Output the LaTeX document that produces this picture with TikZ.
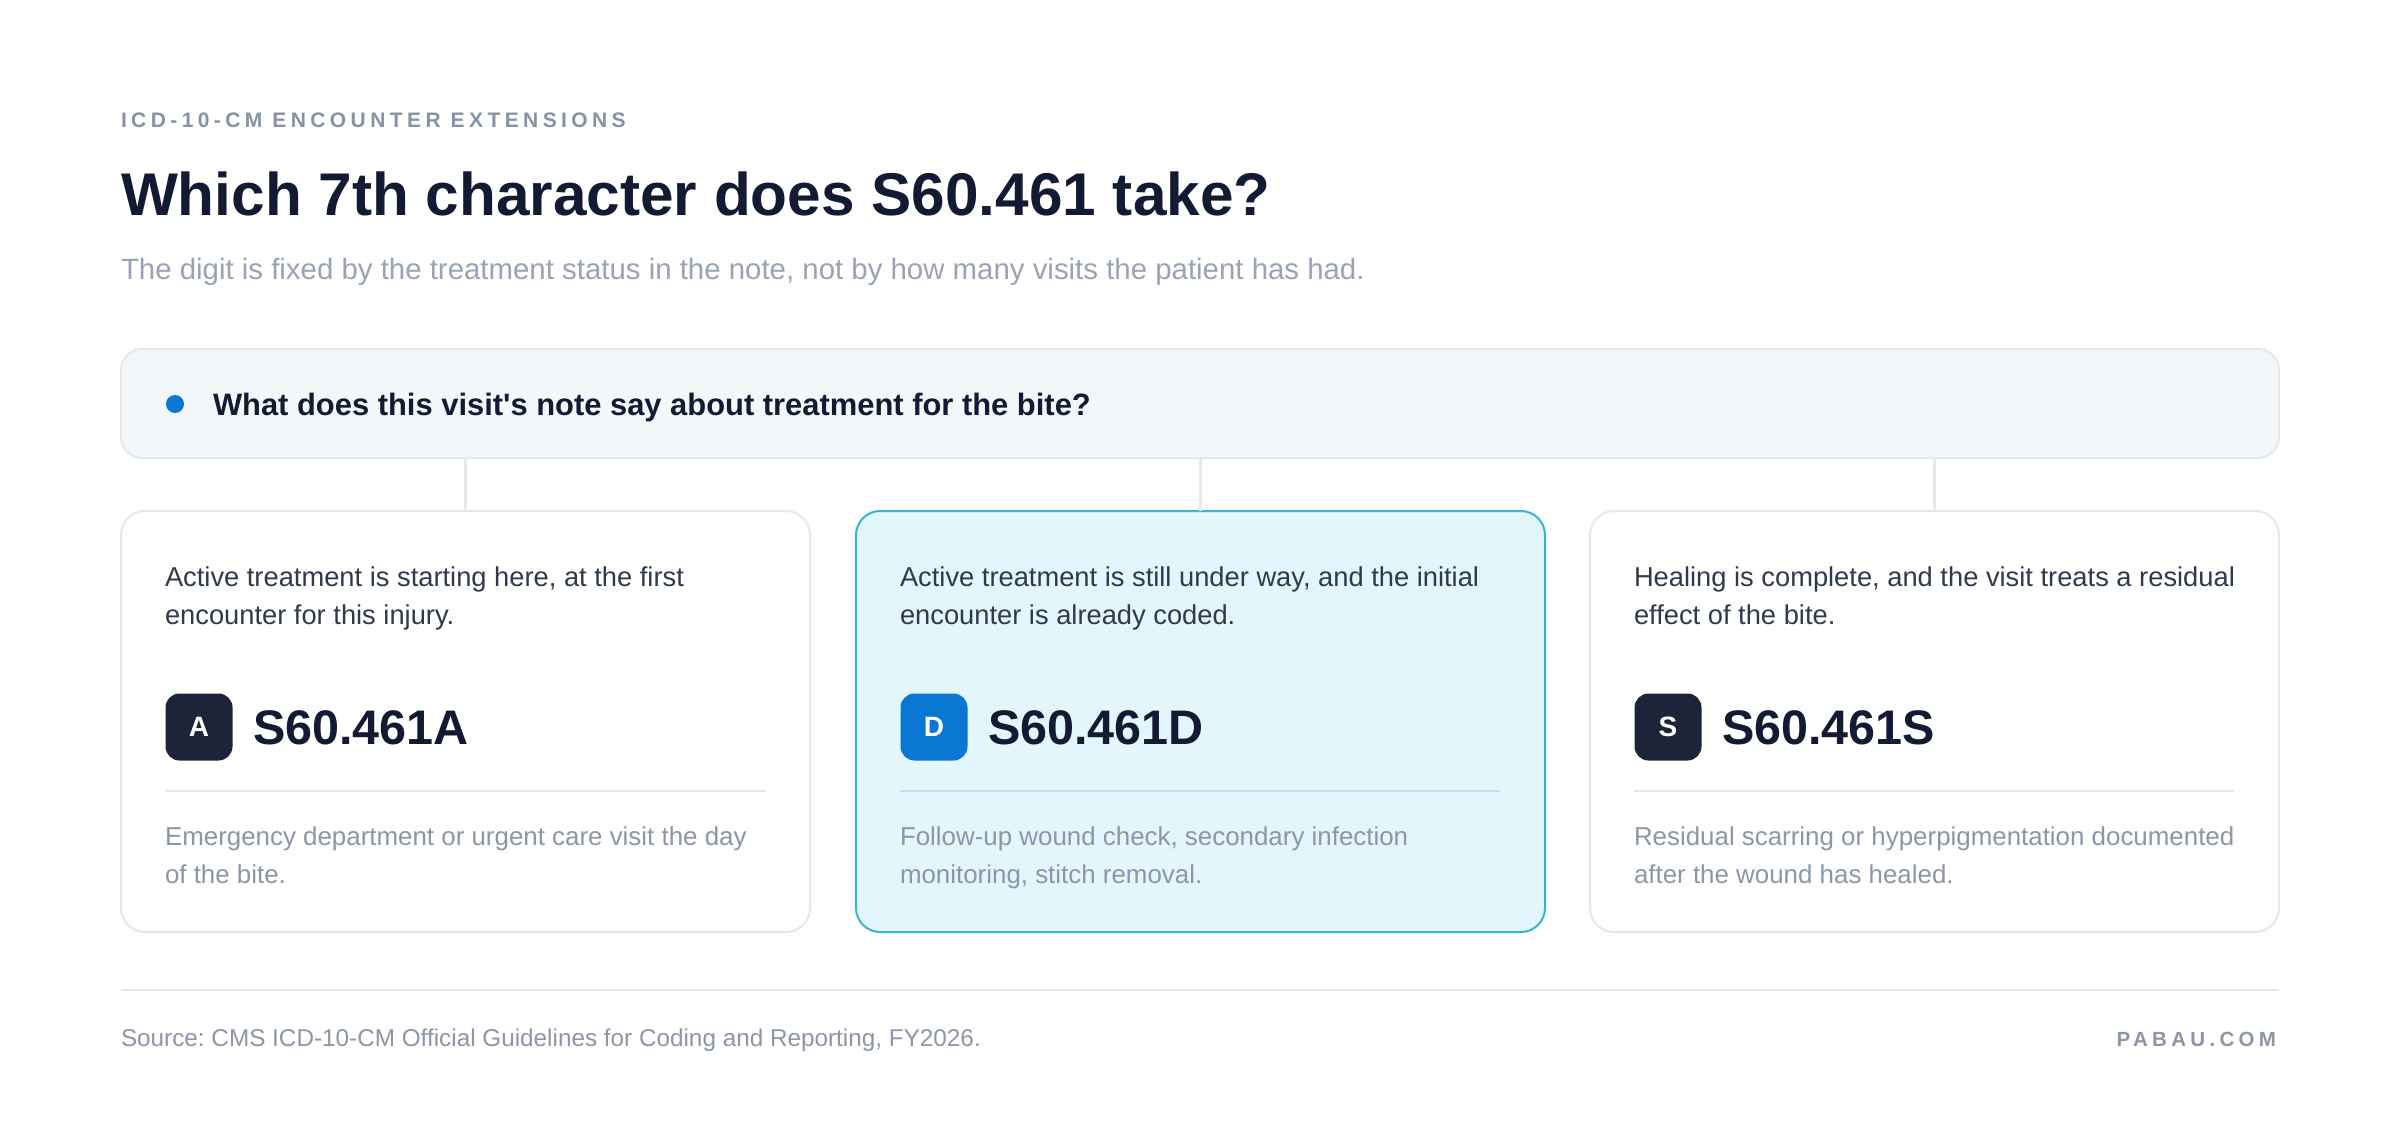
\documentclass[tikz,border=0pt]{standalone}
\usepackage{fontspec}
\setmainfont{Liberation Sans}
\newfontfamily\trackf{Liberation Sans}[LetterSpace=21]
\newfontfamily\plainf{Liberation Sans}
\definecolor{navy}{HTML}{121B33}
\definecolor{eyebrowc}{HTML}{8792A4}
\definecolor{subc}{HTML}{9AA3B3}
\definecolor{bodyc}{HTML}{2F3A4C}
\definecolor{mutedc}{HTML}{8C96A6}
\definecolor{linec}{HTML}{E3E8EF}
\definecolor{qfill}{HTML}{F4F7FA}
\definecolor{cyanfill}{HTML}{E2F6FB}
\definecolor{cyanline}{HTML}{3AB5D1}
\definecolor{cyandiv}{HTML}{B9E2EE}
\definecolor{badgedark}{HTML}{1C2538}
\definecolor{blueacc}{HTML}{0A78D2}
\tikzset{
  every node/.style={inner sep=0pt, outer sep=0pt},
  txt/.style={anchor=base west},
  qbox/.style={draw=linec, fill=qfill, line width=2pt, rounded corners=21pt, anchor=north west, minimum width=2158pt, minimum height=109pt},
  card/.style={draw=linec, fill=white, line width=2pt, rounded corners=24pt, anchor=north west, minimum width=689pt, minimum height=421pt},
  cardhi/.style={card, draw=cyanline, fill=cyanfill},
  conn/.style={draw=linec, line width=3pt},
  divl/.style={draw=linec, line width=2pt},
  badge/.style={rounded corners=14pt, minimum size=67pt, text=white, font=\bfseries\fontsize{28}{30}\selectfont},
  bodytxt/.style={txt, text=bodyc, font=\fontsize{27.3}{32}\selectfont},
  mutedtxt/.style={txt, text=mutedc, font=\fontsize{25.9}{30}\selectfont},
  codetxt/.style={txt, text=navy, font=\bfseries\fontsize{48.5}{56}\selectfont}
}
\begin{document}
\frenchspacing
\begin{tikzpicture}[x=1pt,y=-1pt]
\fill[white] (0,0) rectangle (2400,1146);
\useasboundingbox (0,0) rectangle (2400,1146);

% header
\node[txt, text=eyebrowc, font=\trackf\bfseries\fontsize{21}{24}\selectfont] (eyebrow) at (121,127) {ICD-10-CM\hspace{10pt}ENCOUNTER\hspace{10pt}EXTENSIONS};
\node[txt, text=navy, font=\bfseries\fontsize{60.3}{70}\selectfont] (title) at (121,215) {Which 7th character does S60.461 take?};
\node[txt, text=subc, font=\fontsize{29.4}{34}\selectfont] (subtitle) at (121,279) {The digit is fixed by the treatment status in the note, not by how many visits the patient has had.};

% question box
\node[qbox] (q) at (121,349) {};
\node[circle, fill=blueacc, minimum size=18pt] (dot) at (175,404) {};
\node[txt, text=navy, font=\plainf\bfseries\fontsize{30.9}{36}\selectfont] (qtext) at (213,415) {What does this visit's note say about treatment for the bite?};

% cards
\node[card] (c1) at (121,511) {};
\node[cardhi] (c2) at (856,511) {};
\node[card] (c3) at (1590,511) {};

% connectors
\draw[conn] (q.south -| c1.north) -- (c1.north);
\draw[conn] (q.south -| c2.north) -- (c2.north);
\draw[conn] (q.south -| c3.north) -- (c3.north);

% card 1
\node[bodytxt] (c1a) at (165,586) {Active treatment is starting here, at the first};
\node[bodytxt] (c1b) at (165,624) {encounter for this injury.};
\node[badge, fill=badgedark] (b1) at (199,727) {A};
\node[codetxt] (code1) at (253,744) {S60.461A};
\draw[divl] (165,791) -- (765,791);
\node[mutedtxt] (c1c) at (165,845) {Emergency department or urgent care visit the day};
\node[mutedtxt] (c1d) at (165,883) {of the bite.};

% card 2
\node[bodytxt] (c2a) at (900,586) {Active treatment is still under way, and the initial};
\node[bodytxt] (c2b) at (900,624) {encounter is already coded.};
\node[badge, fill=blueacc] (b2) at (934,727) {D};
\node[codetxt] (code2) at (988,744) {S60.461D};
\draw[divl, draw=cyandiv] (900,791) -- (1500,791);
\node[mutedtxt] (c2c) at (900,845) {Follow-up wound check, secondary infection};
\node[mutedtxt] (c2d) at (900,883) {monitoring, stitch removal.};

% card 3
\node[bodytxt] (c3a) at (1634,586) {Healing is complete, and the visit treats a residual};
\node[bodytxt] (c3b) at (1634,624) {effect of the bite.};
\node[badge, fill=badgedark] (b3) at (1668,727) {S};
\node[codetxt] (code3) at (1722,744) {S60.461S};
\draw[divl] (1634,791) -- (2234,791);
\node[mutedtxt] (c3c) at (1634,845) {Residual scarring or hyperpigmentation documented};
\node[mutedtxt] (c3d) at (1634,883) {after the wound has healed.};

% footer
\draw[divl] (121,990) -- (2279,990);
\node[txt, text=mutedc, font=\fontsize{24.3}{28}\selectfont] (source) at (121,1046) {Source: CMS ICD-10-CM Official Guidelines for Coding and Reporting, FY2026.};
\node[anchor=base east, text=mutedc, font=\trackf\bfseries\fontsize{20.5}{24}\selectfont] (brand) at (2276,1046) {PABAU.COM};
\end{tikzpicture}
\end{document}
